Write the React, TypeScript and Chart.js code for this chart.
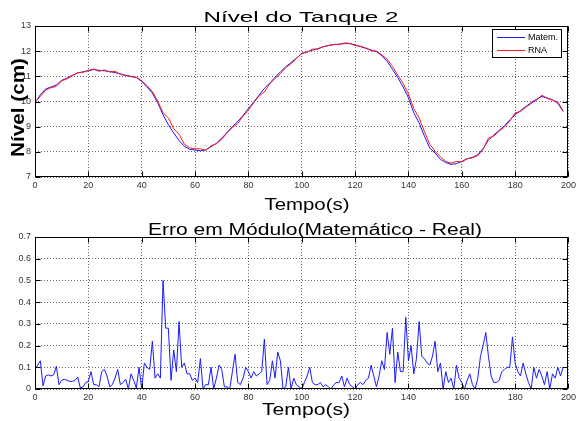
import React, { useEffect, useRef } from 'react';
import { Chart, registerables } from 'chart.js';

Chart.register(...registerables);

// ---------------- DATA ----------------
const passoNivel = 2; // seconds between samples of the level curves
const nivelMatem = [
  9.94, 10.27, 10.5, 10.57, 10.66, 10.84, 10.93, 11.04, 11.13, 11.18,
  11.22, 11.27, 11.24, 11.22, 11.19, 11.15, 11.1, 11.04, 10.99, 10.95,
  10.8, 10.58, 10.33, 9.95, 9.47, 9.08, 8.75, 8.45, 8.22, 8.1,
  8.07, 8.04, 8.08, 8.2, 8.34, 8.54, 8.77, 9.0, 9.2, 9.45,
  9.72, 9.98, 10.25, 10.52, 10.73, 10.96, 11.18, 11.38, 11.55, 11.72,
  11.9, 11.97, 12.04, 12.1, 12.17, 12.23, 12.26, 12.28, 12.3, 12.3,
  12.25, 12.18, 12.11, 12.05, 11.98, 11.82, 11.6, 11.28, 10.95, 10.58,
  10.15, 9.55, 9.15, 8.62, 8.15, 7.95, 7.7, 7.57, 7.5, 7.53,
  7.62, 7.72, 7.78, 7.89, 8.13, 8.46, 8.67, 8.85, 9.04, 9.27,
  9.47, 9.64, 9.8, 9.96, 10.09, 10.2, 10.14, 10.07, 9.93, 9.6,
];
const nivelRNA = [
  9.98, 10.2, 10.45, 10.55, 10.6, 10.82, 10.9, 11.02, 11.15, 11.16,
  11.24, 11.29, 11.2, 11.26, 11.17, 11.2, 11.08, 11.03, 11.0, 10.96,
  10.83, 10.63, 10.4, 10.02, 9.55, 9.35, 8.92, 8.7, 8.3, 8.16,
  8.12, 8.12, 8.06, 8.24, 8.32, 8.5, 8.75, 8.97, 9.12, 9.42,
  9.66, 9.95, 10.22, 10.38, 10.7, 10.92, 11.1, 11.35, 11.5, 11.7,
  11.93, 11.95, 12.08, 12.08, 12.18, 12.22, 12.27, 12.26, 12.33, 12.31,
  12.22, 12.2, 12.13, 12.02, 12.0, 11.86, 11.68, 11.4, 11.05, 10.72,
  10.3, 9.72, 9.35, 8.8, 8.3, 8.02, 7.8, 7.62, 7.55, 7.62,
  7.6, 7.73, 7.76, 7.85, 8.1, 8.55, 8.62, 8.82, 8.98, 9.22,
  9.55, 9.6, 9.77, 9.92, 10.05, 10.25, 10.13, 10.05, 9.98, 9.62,
];
const passoErro = 1; // seconds between error samples
const erroModulo = [
  0.09, 0.11, 0.13, 0.015, 0.06, 0.065, 0.06, 0.065, 0.105, 0.02,
  0.04, 0.045, 0.04, 0.035, 0.035, 0.04, 0.055, 0.005, 0.01, 0.03,
  0.035, 0.08, 0.02, 0.02, 0.01, 0.08, 0.09, 0.06, 0.01, 0.02,
  0.05, 0.09, 0.02, 0.03, 0.045, 0.0, 0.07, 0.04, 0.005, 0.1,
  0.0, 0.12, 0.1, 0.09, 0.22, 0.05, 0.07, 0.05, 0.5, 0.28,
  0.28, 0.04, 0.18, 0.08, 0.31, 0.1, 0.12, 0.07, 0.07, 0.04,
  0.05, 0.03, 0.14, 0.0, 0.02, 0.02, 0.1, 0.0, 0.05, 0.11,
  0.09, 0.01, 0.01, 0.0, 0.08, 0.16, 0.03, 0.02, 0.05, 0.1,
  0.08, 0.05, 0.08, 0.06, 0.07, 0.08, 0.23, 0.02, 0.04, 0.13,
  0.05, 0.17, 0.13, 0.0, 0.01, 0.1, 0.0, 0.05, 0.02, 0.01,
  0.0, 0.03, 0.06, 0.1, 0.03, 0.02, 0.02, 0.03, 0.01, 0.02,
  0.01, 0.0, 0.02, 0.03, 0.03, 0.06, 0.01, 0.05, 0.02, 0.01,
  0.0, 0.02, 0.03, 0.02, 0.04, 0.05, 0.11, 0.06, 0.01, 0.06,
  0.13, 0.09, 0.26, 0.16, 0.28, 0.03, 0.17, 0.08, 0.08, 0.33,
  0.13, 0.2, 0.07, 0.14, 0.31, 0.15, 0.14, 0.12, 0.11, 0.15,
  0.22, 0.08, 0.12, 0.0, 0.08, 0.03, 0.05, 0.0, 0.11, 0.05,
  0.03, 0.0, 0.04, 0.07, 0.02, 0.0, 0.05, 0.15, 0.2, 0.26,
  0.15, 0.06, 0.03, 0.03, 0.04, 0.08, 0.09, 0.1, 0.1, 0.24,
  0.12, 0.08, 0.06, 0.12, 0.07, 0.03, 0.0, 0.1, 0.05, 0.09,
  0.06, 0.02, 0.08, 0.0, 0.07, 0.05, 0.1, 0.06, 0.1,
];

const tituloNivel = 'Nível do Tanque 2';
const tituloErro = 'Erro em Módulo(Matemático - Real)';
const rotuloX = 'Tempo(s)';
const rotuloYNivel = 'Nível (cm)';
const legendaMatem = 'Matem.';
const legendaRNA = 'RNA';

const FONT = '"Liberation Sans", Arial, Helvetica, sans-serif';

// ---------------- HELPERS ----------------
type TextItem = { text: string; x: number; y: number; width: number; font: string; rotate?: boolean };

function drawStretched(ctx: CanvasRenderingContext2D, t: TextItem) {
  ctx.save();
  ctx.font = t.font;
  ctx.fillStyle = '#000';
  ctx.textAlign = 'center';
  ctx.textBaseline = 'alphabetic';
  const w = ctx.measureText(t.text).width || 1;
  ctx.translate(t.x, t.y);
  if (t.rotate) ctx.rotate(-Math.PI / 2);
  ctx.scale(t.width / w, 1);
  ctx.fillText(t.text, 0, 0);
  ctx.restore();
}

function makeOverlay(texts: TextItem[], legend?: { box: number[]; items: { label: string; color: string }[] }) {
  return {
    id: 'matlabOverlay',
    afterDraw(chart: any) {
      const { ctx, chartArea } = chart;
      const { left, top, right, bottom } = chartArea;
      const xs = chart.scales.x;
      const ys = chart.scales.y;
      ctx.save();
      ctx.strokeStyle = '#000';
      ctx.lineWidth = 1;
      ctx.setLineDash([]);
      ctx.beginPath();
      const L = Math.round(left) + 0.5;
      const R = Math.round(right) - 0.5;
      const T = Math.round(top) + 0.5;
      const B = Math.round(bottom) - 0.5;
      xs.ticks.forEach((tk: any) => {
        const px = Math.round(xs.getPixelForValue(tk.value)) + 0.5;
        ctx.moveTo(px, B); ctx.lineTo(px, B - 5);
        ctx.moveTo(px, T); ctx.lineTo(px, T + 5);
      });
      ys.ticks.forEach((tk: any) => {
        const py = Math.round(ys.getPixelForValue(tk.value)) + 0.5;
        ctx.moveTo(L, py); ctx.lineTo(L + 5, py);
        ctx.moveTo(R, py); ctx.lineTo(R - 5, py);
      });
      ctx.stroke();
      ctx.strokeRect(L, T, R - L, B - T);
      texts.forEach((t) => drawStretched(ctx, t));
      if (legend) {
        const [bx, by, bw, bh] = legend.box;
        ctx.fillStyle = '#fff';
        ctx.fillRect(bx, by, bw, bh);
        ctx.strokeStyle = '#000';
        ctx.strokeRect(bx + 0.5, by + 0.5, bw, bh);
        ctx.font = `9px ${FONT}`;
        ctx.textBaseline = 'middle';
        ctx.textAlign = 'left';
        legend.items.forEach((it, i) => {
          const yy = by + 8 + i * 13 + 0.5;
          ctx.strokeStyle = it.color;
          ctx.beginPath();
          ctx.moveTo(bx + 5, yy);
          ctx.lineTo(bx + 33, yy);
          ctx.stroke();
          ctx.fillStyle = '#000';
          ctx.fillText(it.label, bx + 36, yy);
        });
      }
      ctx.restore();
    },
  };
}

function axisOpts(min: number, max: number, step: number, isX: boolean) {
  return {
    type: 'linear',
    min,
    max,
    ticks: {
      stepSize: step,
      autoSkip: false,
      maxRotation: 0,
      padding: isX ? 3 : 4,
      color: '#333',
      font: { family: FONT, size: 9 },
    },
    grid: { color: 'rgba(0,0,0,0.6)', lineWidth: 1, drawTicks: false },
    border: { display: false, dash: [1, 2] },
    afterFit: (s: any) => {
      if (isX) s.height = 14;
      else s.width = 35;
    },
  };
}

// ---------------- COMPONENT ----------------
export default function App() {
  const ref1 = useRef<HTMLCanvasElement>(null);
  const ref2 = useRef<HTMLCanvasElement>(null);

  useEffect(() => {
    const t1 = nivelMatem.map((_, i) => i * passoNivel);
    const t2 = erroModulo.map((_, i) => i * passoErro);

    const c1 = new Chart(ref1.current as HTMLCanvasElement, {
      type: 'line',
      data: {
        datasets: [
          {
            label: legendaMatem,
            data: t1.map((t, i) => ({ x: t, y: nivelMatem[i] })),
            borderColor: '#1a1aff',
            borderWidth: 1,
            pointRadius: 0,
            order: 1,
          },
          {
            label: legendaRNA,
            data: t1.map((t, i) => ({ x: t, y: nivelRNA[i] })),
            borderColor: '#ff1a1a',
            borderWidth: 1,
            pointRadius: 0,
            order: 0,
          },
        ],
      },
      options: {
        responsive: false,
        animation: false,
        layout: { autoPadding: false, padding: { left: 0, top: 26, right: 8, bottom: 25 } },
        plugins: { legend: { display: false }, tooltip: { enabled: false } },
        scales: {
          x: axisOpts(0, 200, 20, true),
          y: axisOpts(7, 13, 1, false),
        } as any,
      },
      plugins: [
        makeOverlay(
          [
            { text: tituloNivel, x: 301, y: 22, width: 195, font: `15px ${FONT}` },
            { text: rotuloX, x: 307, y: 210, width: 85, font: `16px ${FONT}` },
            { text: rotuloYNivel, x: 24, y: 107.5, width: 99, font: `bold 18px ${FONT}`, rotate: true },
          ],
          {
            box: [492, 29, 69, 28],
            items: [
              { label: legendaMatem, color: '#1a1aff' },
              { label: legendaRNA, color: '#ff1a1a' },
            ],
          }
        ),
      ],
    } as any);

    const c2 = new Chart(ref2.current as HTMLCanvasElement, {
      type: 'line',
      data: {
        datasets: [
          {
            label: 'Erro',
            data: t2.map((t, i) => ({ x: t, y: erroModulo[i] })),
            borderColor: '#1a1aff',
            borderWidth: 1,
            pointRadius: 0,
          },
        ],
      },
      options: {
        responsive: false,
        animation: false,
        layout: { autoPadding: false, padding: { left: 0, top: 21, right: 8, bottom: 18 } },
        plugins: { legend: { display: false }, tooltip: { enabled: false } },
        scales: {
          x: axisOpts(0, 200, 20, true),
          y: axisOpts(0, 0.7, 0.1, false),
        } as any,
      },
      plugins: [
        makeOverlay([
          { text: tituloErro, x: 315, y: 18.5, width: 334, font: `16px ${FONT}` },
          { text: rotuloX, x: 306, y: 199, width: 88, font: `16px ${FONT}` },
        ]),
      ],
    } as any);

    return () => {
      c1.destroy();
      c2.destroy();
    };
  }, []);

  return (
    <div style={{ position: 'absolute', left: 0, top: 0, width: 579, height: 421, background: '#fff' }}>
      <canvas ref={ref1} width={579} height={216} style={{ position: 'absolute', left: 0, top: 0 }} />
      <canvas ref={ref2} width={579} height={205} style={{ position: 'absolute', left: 0, top: 216 }} />
    </div>
  );
}
